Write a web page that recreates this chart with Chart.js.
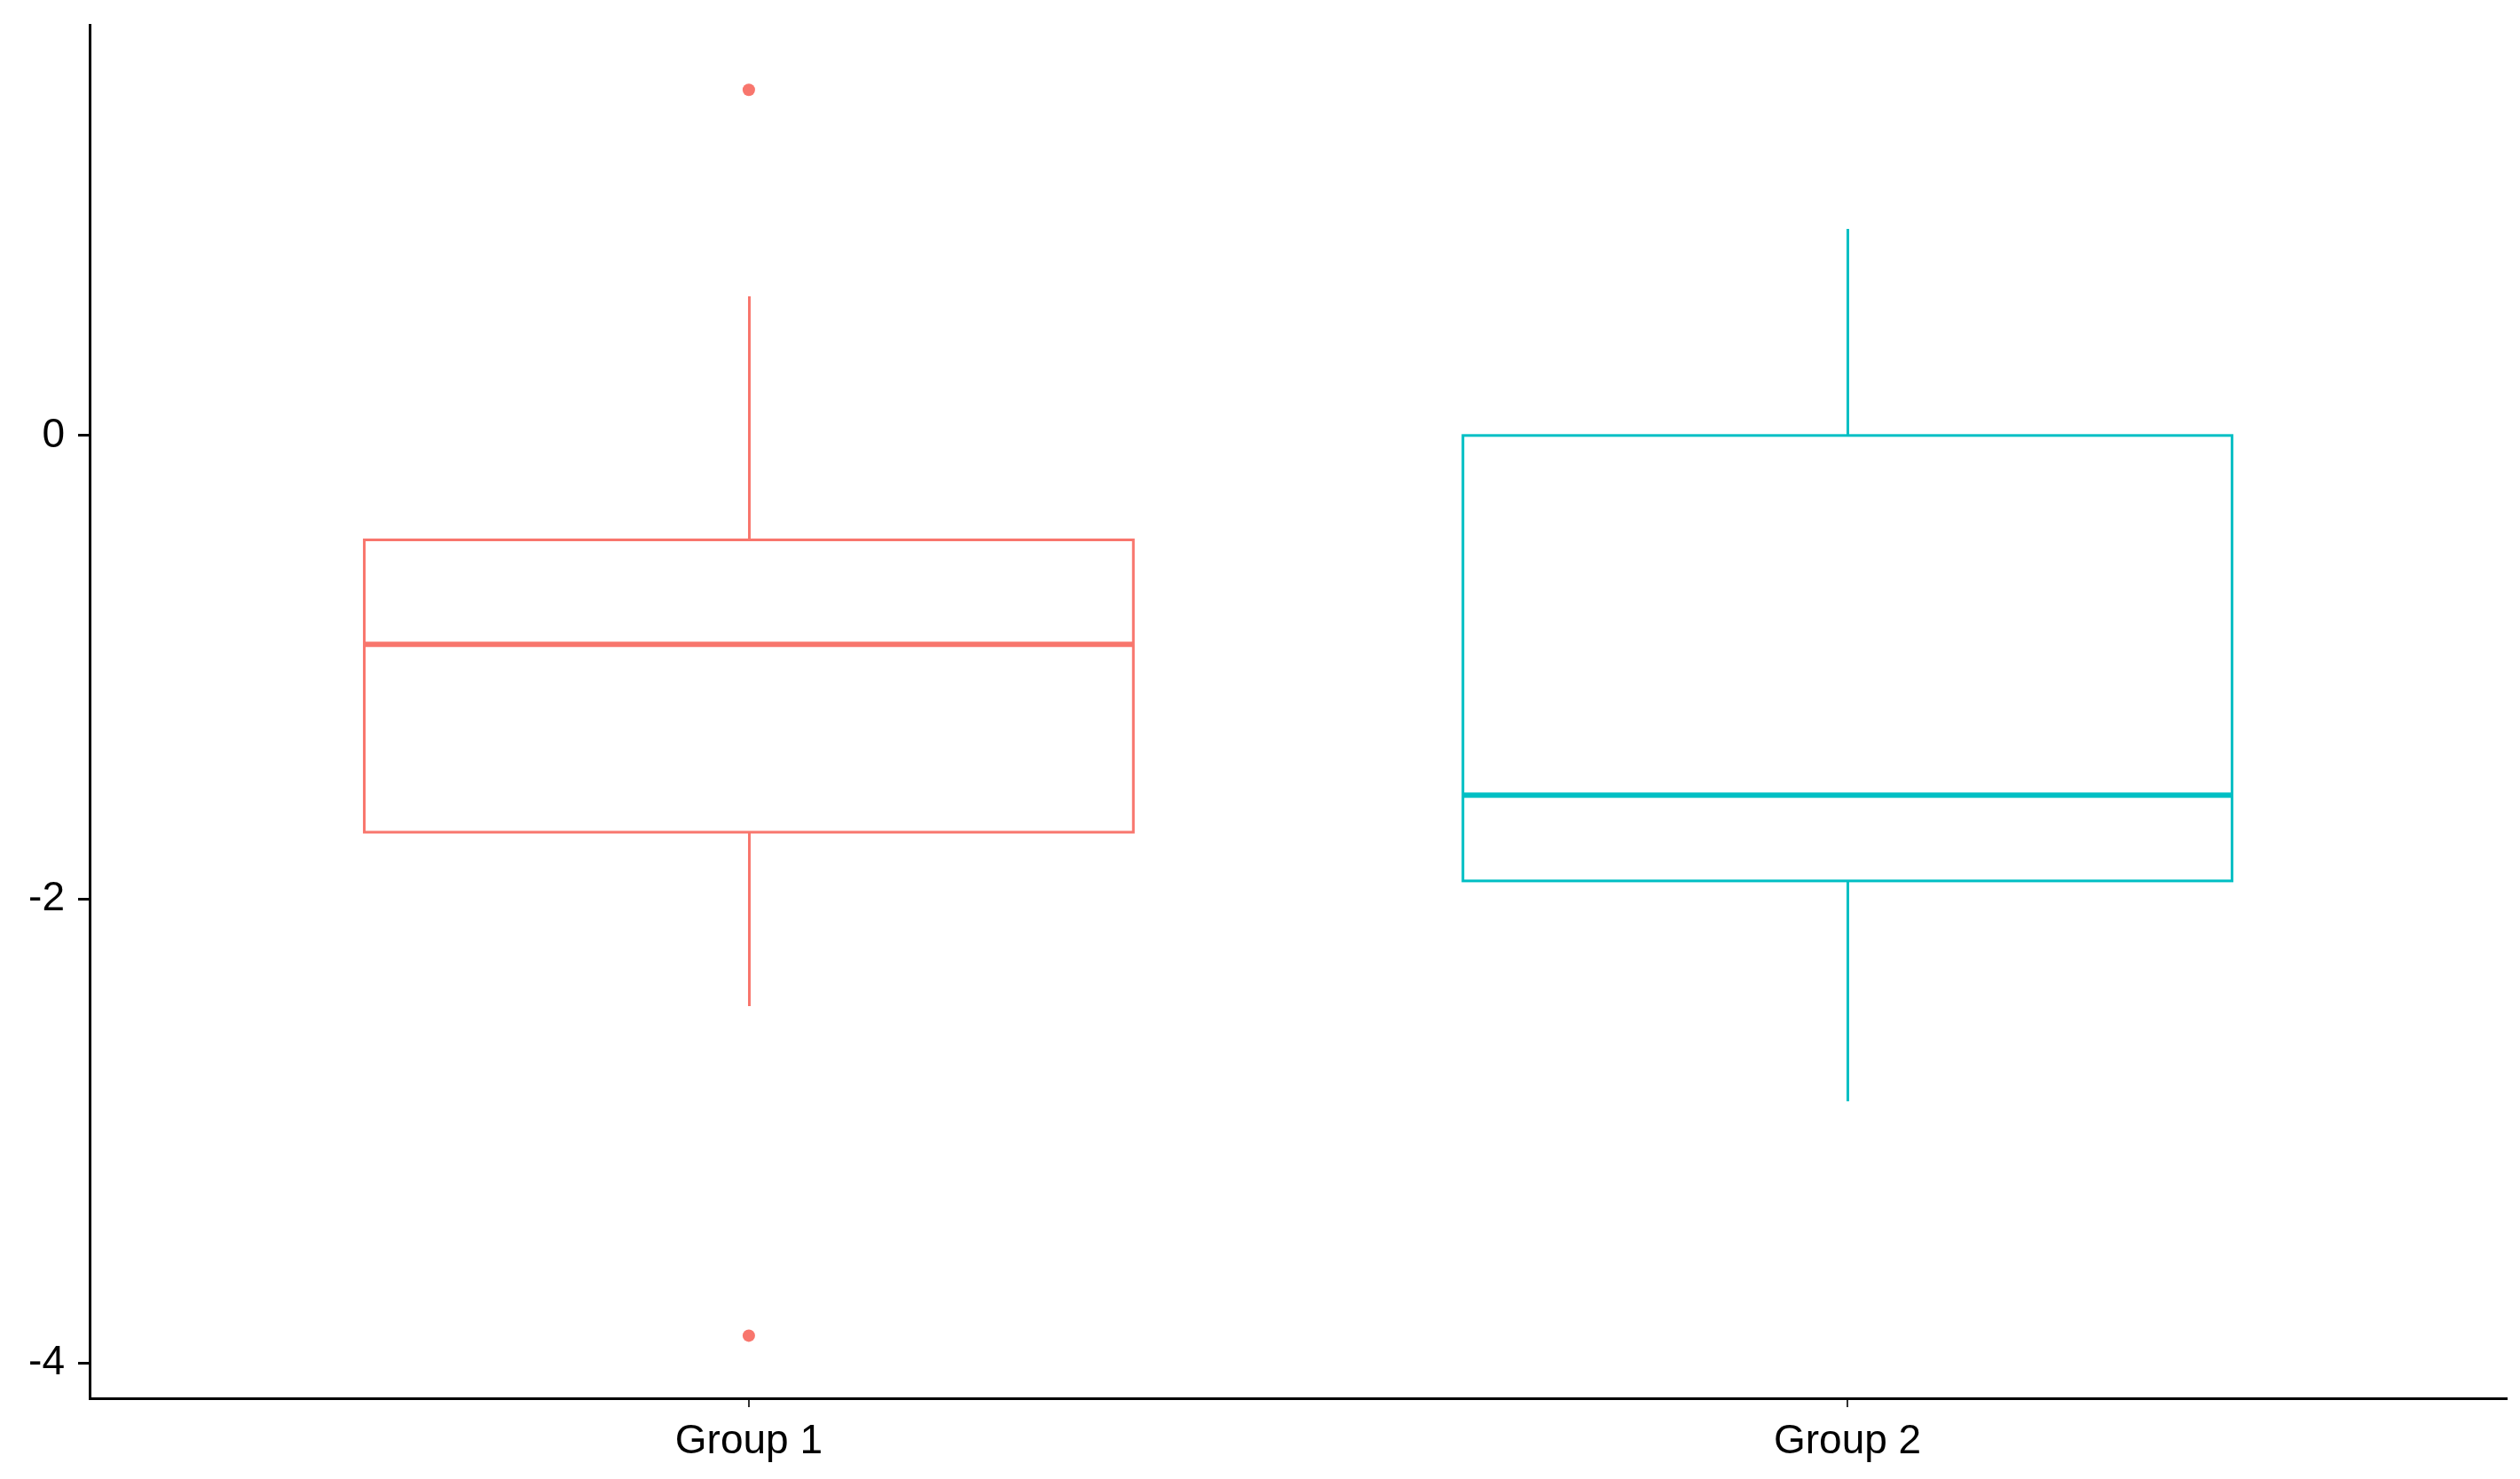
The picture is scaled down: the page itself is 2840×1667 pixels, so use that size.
<!DOCTYPE html>
<html><head><meta charset="utf-8">
<script src="https://cdn.jsdelivr.net/npm/chart.js@4/dist/chart.umd.min.js"></script>
<style>html,body{margin:0;padding:0;background:#fff;overflow:hidden;}</style>
</head><body>
<canvas id="c" width="2840" height="1667"></canvas>
<script>
// ---- data ----
const categories = ['Group 1', 'Group 2'];
const seriesColors = ['#F8766D', '#00BFC4'];
const whiskerLow = [-2.46, -2.87];
const q1 = [-1.71, -1.92];
const median = [-0.90, -1.55];
const q3 = [-0.45, 0.00];
const whiskerHigh = [0.60, 0.89];
const outliers = [[1.49, -3.88], []];
const yTicks = [-4, -2, 0];
const yMin = -4.15, yMax = 1.77;

// ---- styling ----
const BOX_HALF = 0.35;
const FONT = { family: '"Liberation Sans", Arial, sans-serif', size: 46 };

const outlierPoints = [];
const outlierColors = [];
outliers.forEach((arr, i) => arr.forEach(v => { outlierPoints.push({ x: i + 1, y: v }); outlierColors.push(seriesColors[i]); }));

const boxPlugin = {
  id: 'boxes',
  beforeDatasetsDraw(chart) {
    const { ctx, scales: { x, y } } = chart;
    categories.forEach((c, i) => {
      const cx = Math.round(x.getPixelForValue(i + 1)) + 0.5;
      const xl = x.getPixelForValue(i + 1 - BOX_HALF);
      const xr = x.getPixelForValue(i + 1 + BOX_HALF);
      const yq1 = y.getPixelForValue(q1[i]);
      const yq3 = y.getPixelForValue(q3[i]);
      ctx.save();
      ctx.strokeStyle = seriesColors[i];
      ctx.lineWidth = 3;
      ctx.beginPath();
      ctx.moveTo(cx, y.getPixelForValue(whiskerHigh[i]));
      ctx.lineTo(cx, yq3);
      ctx.moveTo(cx, yq1);
      ctx.lineTo(cx, y.getPixelForValue(whiskerLow[i]));
      ctx.stroke();
      ctx.strokeRect(xl, yq3, xr - xl, yq1 - yq3);
      ctx.lineWidth = 6;
      ctx.beginPath();
      const ym = y.getPixelForValue(median[i]);
      ctx.moveTo(xl, ym);
      ctx.lineTo(xr, ym);
      ctx.stroke();
      ctx.restore();
    });
  }
};

new Chart(document.getElementById('c'), {
  type: 'scatter',
  data: {
    datasets: [{
      data: outlierPoints,
      pointBackgroundColor: outlierColors,
      pointBorderWidth: 0,
      pointRadius: 7,
      pointHoverRadius: 7
    }]
  },
  options: {
    responsive: false,
    animation: false,
    layout: { padding: { top: 28, right: 15, left: 0, bottom: 0 } },
    plugins: { legend: { display: false }, tooltip: { enabled: false } },
    scales: {
      x: {
        type: 'linear',
        min: 0.4, max: 2.6,
        afterBuildTicks: s => { s.ticks = categories.map((c, i) => ({ value: i + 1 })); },
        afterFit: s => { s.height = 91; },
        ticks: {
          callback: v => categories[v - 1],
          font: FONT, color: '#000', padding: 12, maxRotation: 0, autoSkip: false
        },
        grid: { display: true, drawOnChartArea: false, drawTicks: true, tickLength: 10, color: '#333', lineWidth: 2 },
        border: { display: true, color: '#000', width: 3 }
      },
      y: {
        min: yMin, max: yMax,
        afterBuildTicks: s => { s.ticks = yTicks.map(v => ({ value: v })); },
        afterFit: s => { s.width = 101; s.paddingTop = 0; s.paddingBottom = 0; },
        ticks: { font: FONT, color: '#000', padding: 15 },
        grid: { display: true, drawOnChartArea: false, drawTicks: true, tickLength: 13, color: '#000', lineWidth: 3 },
        border: { display: true, color: '#000', width: 3 }
      }
    }
  },
  plugins: [boxPlugin]
});
</script>
</body></html>
